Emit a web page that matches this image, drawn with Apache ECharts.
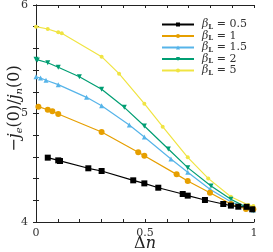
<!DOCTYPE html>
<html><head><meta charset="utf-8">
<script src="https://cdn.jsdelivr.net/npm/echarts@6/dist/echarts.min.js"></script>
<style>html,body{margin:0;padding:0;background:#fff}#c{width:273px;height:252px}</style>
</head><body><div id="c"></div>
<script>
const betaLabels = ['0.5', '1', '1.5', '2', '5'];
const colors = ['#000000', '#E69F00', '#56B4E9', '#009E73', '#F0E442'];
const symbols = ['rect', 'circle', 'triangle', 'path://M0,0 L10,0 L5,9 Z', 'circle'];
const symbolSizes = [6, 6, 5, 5, 4];

const x05 = [0.054, 0.102, 0.110, 0.240, 0.301, 0.446, 0.497, 0.561, 0.673, 0.696, 0.775, 0.859, 0.894, 0.928, 0.966, 0.992];
const y05 = [4.593, 4.568, 4.562, 4.495, 4.470, 4.384, 4.356, 4.316, 4.258, 4.243, 4.203, 4.166, 4.151, 4.141, 4.140, 4.117];

const x1 = [0.011, 0.054, 0.075, 0.102, 0.301, 0.469, 0.497, 0.645, 0.696, 0.798, 0.894, 0.963, 0.997];
const y1 = [5.063, 5.035, 5.020, 4.995, 4.829, 4.642, 4.611, 4.439, 4.378, 4.270, 4.166, 4.120, 4.117];

const x15 = [0.0, 0.021, 0.046, 0.102, 0.232, 0.301, 0.428, 0.497, 0.619, 0.696, 0.798, 0.894, 0.966, 0.997];
const y15 = [5.339, 5.327, 5.306, 5.266, 5.149, 5.072, 4.894, 4.783, 4.581, 4.458, 4.301, 4.187, 4.126, 4.110];

const x2 = [0.0, 0.006, 0.054, 0.102, 0.199, 0.301, 0.405, 0.497, 0.607, 0.696, 0.803, 0.894, 0.966, 0.997];
const y2 = [5.499, 5.493, 5.468, 5.426, 5.339, 5.223, 5.057, 4.885, 4.673, 4.501, 4.332, 4.209, 4.135, 4.104];

const x5 = [0.0, 0.054, 0.102, 0.118, 0.301, 0.381, 0.497, 0.581, 0.696, 0.790, 0.894, 0.974, 0.997];
const y5 = [5.800, 5.779, 5.748, 5.739, 5.524, 5.367, 5.091, 4.879, 4.596, 4.402, 4.233, 4.157, 4.147];

const xs = [x05, x1, x15, x2, x5];
const ys = [y05, y1, y15, y2, y5];

const serif = '"DejaVu Serif", "Liberation Serif", serif';
const axisCommon = {
  axisLine: { lineStyle: { color: '#222', width: 1 } },
  axisTick: { inside: true, length: 3, lineStyle: { color: '#222' } },
  splitLine: { show: false }
};

const series = betaLabels.map((b, i) => ({
  name: b,
  type: 'line',
  data: xs[i].map((x, k) => [x, ys[i][k]]),
  symbol: symbols[i],
  symbolSize: symbolSizes[i],
  lineStyle: { color: colors[i], width: 1.2 },
  itemStyle: { color: colors[i] },
  z: 10 - i
}));

const chart = echarts.init(document.getElementById('c'), null, { renderer: 'canvas' });
chart.setOption({
  animation: false,
  grid: { left: 36, right: 19, top: 5, bottom: 30, containLabel: false, outerBoundsMode: 'none' },
  legend: {
    orient: 'vertical', left: 156, top: 14, itemWidth: 32, itemHeight: 5, itemGap: 0,
    data: betaLabels,
    formatter: n => '{b|β}{s|L}{t| = ' + n + '}',
    textStyle: {
      color: '#333', fontFamily: serif, fontSize: 11, padding: [0, 0, 0, 3],
      rich: {
        b: { fontFamily: serif, fontStyle: 'italic', fontSize: 11, color: '#333' },
        s: { fontFamily: serif, fontSize: 7, fontWeight: 'bold', color: '#333', padding: [5, 0, 0, 0] },
        t: { fontFamily: serif, fontSize: 11, color: '#333' }
      }
    }
  },
  xAxis: [
    Object.assign({
      type: 'value', min: 0, max: 1, interval: 0.1, position: 'bottom',
      name: '{d|Δ}{n|n}', nameLocation: 'middle', nameGap: 14, nameMoveOverlap: false,
      nameTextStyle: { rich: {
        d: { fontFamily: serif, fontSize: 16, color: '#222' },
        n: { fontFamily: serif, fontSize: 16, fontStyle: 'italic', color: '#222' } } },
      axisLabel: { fontFamily: serif, fontSize: 11, color: '#333', margin: 6,
        formatter: v => { const r = Math.round(v * 10); return (r % 5 === 0) ? String(r / 10) : ''; } }
    }, axisCommon),
    Object.assign({ type: 'value', min: 0, max: 1, interval: 0.1, position: 'top', axisLabel: { show: false } }, axisCommon)
  ],
  yAxis: [
    Object.assign({
      type: 'value', min: 4, max: 6, interval: 0.2, position: 'left',
      name: '{t|−}{i|j}{s|e}{t|(0)/}{i|j}{s|n}{t|(0)}', nameLocation: 'middle', nameGap: 12, nameRotate: 90, nameMoveOverlap: false,
      nameTextStyle: { padding: [0, 0, 0, 10], rich: {
        t: { fontFamily: serif, fontSize: 16, color: '#222' },
        i: { fontFamily: serif, fontSize: 16, fontStyle: 'italic', color: '#222' },
        s: { fontFamily: serif, fontSize: 10, fontStyle: 'italic', color: '#222', padding: [8, 0, 0, 0] } } },
      axisLabel: { fontFamily: serif, fontSize: 11, color: '#333', margin: 8,
        formatter: v => { const r = Math.round(v * 10); return (r % 10 === 0) ? String(r / 10) : ''; } }
    }, axisCommon),
    Object.assign({ type: 'value', min: 4, max: 6, interval: 0.2, position: 'right', axisLabel: { show: false } }, axisCommon)
  ],
  series: series
});
</script></body></html>
